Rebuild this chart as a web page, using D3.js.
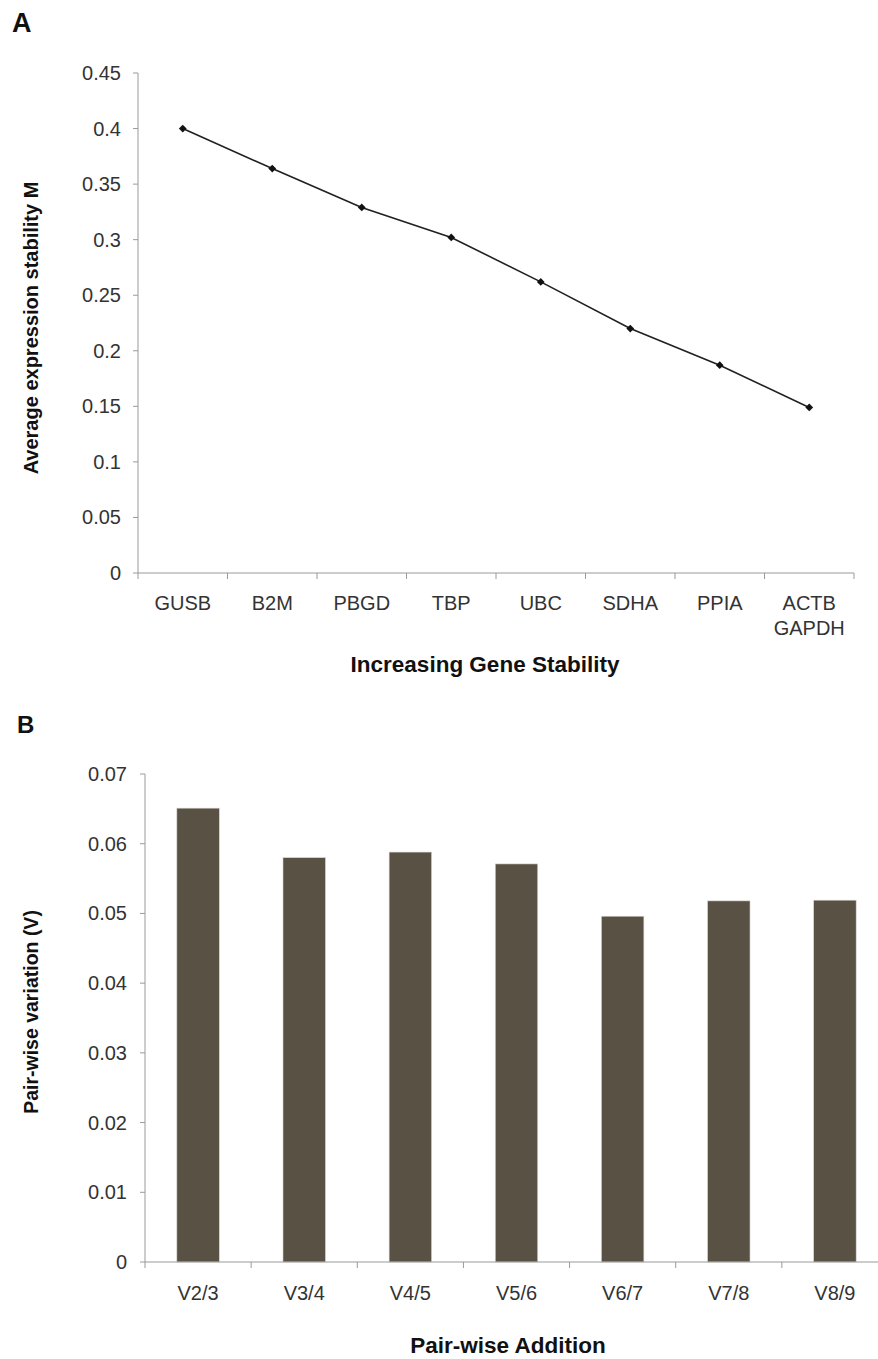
<!DOCTYPE html>
<html lang="en">
<head>
    <meta charset="UTF-8">
    <title>Gene stability and pair-wise variation</title>
    <script src="https://d3js.org/d3.v7.min.js"></script>
    <style>
        body { margin: 0; background: #fff; font-family: "Liberation Sans", Arial, sans-serif; }
        svg { display: block; }
        .tick-label { font-size: 20px; fill: #333; }
        .axis-title { font-weight: bold; fill: #111; }
        .panel-label { font-weight: bold; fill: #111; }
    </style>
</head>
<body>
    <div id="chart"></div>
    <script>
        // Panel A data
        const genes = ["GUSB", "B2M", "PBGD", "TBP", "UBC", "SDHA", "PPIA", "ACTB\nGAPDH"];
        const stabilityM = [0.400, 0.364, 0.329, 0.302, 0.262, 0.220, 0.187, 0.149];
        const ticksA = [0, 0.05, 0.1, 0.15, 0.2, 0.25, 0.3, 0.35, 0.4, 0.45];

        // Panel B data
        const pairs = ["V2/3", "V3/4", "V4/5", "V5/6", "V6/7", "V7/8", "V8/9"];
        const pairVar = [0.0651, 0.0580, 0.0588, 0.0571, 0.0496, 0.0518, 0.0519];
        const ticksB = [0, 0.01, 0.02, 0.03, 0.04, 0.05, 0.06, 0.07];

        const W = 878, H = 1359;
        const axisColor = "#9a9a9a";

        const svg = d3.select("#chart").append("svg")
            .attr("width", W).attr("height", H);

        // ---------- Panel A ----------
        const a = { left: 138, right: 854, top: 73, bottom: 573 };
        const xA = d3.scalePoint().domain(genes).range([a.left, a.right]).padding(0.5);
        const yA = d3.scaleLinear().domain([0, 0.45]).range([a.bottom, a.top]);
        const stepA = xA.step();

        const gA = svg.append("g");

        // y axis
        gA.append("line")
            .attr("x1", a.left).attr("x2", a.left)
            .attr("y1", yA(0.45)).attr("y2", yA(0))
            .attr("stroke", axisColor);
        gA.selectAll(".ytA").data(ticksA).join("line")
            .attr("x1", a.left - 5).attr("x2", a.left)
            .attr("y1", d => yA(d)).attr("y2", d => yA(d))
            .attr("stroke", axisColor);
        gA.selectAll(".ylA").data(ticksA).join("text")
            .attr("class", "tick-label")
            .attr("x", a.left - 17).attr("y", d => yA(d))
            .attr("dy", "0.35em").attr("text-anchor", "end")
            .text(d => d);

        // x axis (ticks between categories)
        gA.append("line")
            .attr("x1", a.left).attr("x2", a.right)
            .attr("y1", a.bottom).attr("y2", a.bottom)
            .attr("stroke", axisColor);
        const boundsA = genes.map(g => xA(g) - stepA / 2).concat([xA(genes[genes.length - 1]) + stepA / 2]);
        gA.selectAll(".xtA").data(boundsA).join("line")
            .attr("x1", d => d).attr("x2", d => d)
            .attr("y1", a.bottom).attr("y2", a.bottom + 6)
            .attr("stroke", axisColor);
        gA.selectAll(".xlA").data(genes).join("text")
            .attr("class", "tick-label")
            .attr("text-anchor", "middle")
            .each(function (g) {
                const lines = g.split("\n");
                d3.select(this).selectAll("tspan").data(lines).join("tspan")
                    .attr("x", xA(g))
                    .attr("y", (l, i) => a.bottom + 37 + i * 25)
                    .text(l => l);
            });

        // line + diamond markers
        const ptsA = genes.map((g, i) => [xA(g), yA(stabilityM[i])]);
        gA.append("path")
            .attr("d", d3.line()(ptsA))
            .attr("fill", "none")
            .attr("stroke", "#231f20")
            .attr("stroke-width", 1.6);
        gA.selectAll(".mk").data(ptsA).join("path")
            .attr("d", d3.symbol(d3.symbolSquare, 30)())
            .attr("transform", d => `translate(${d[0]},${d[1]}) rotate(45)`)
            .attr("fill", "#111");

        // titles
        gA.append("text").attr("class", "axis-title")
            .attr("x", 485).attr("y", 672)
            .attr("text-anchor", "middle")
            .style("font-size", "22.5px")
            .text("Increasing Gene Stability");
        gA.append("text").attr("class", "axis-title")
            .attr("transform", `translate(31,${(a.top + a.bottom) / 2 + 5}) rotate(-90)`)
            .attr("dy", "0.35em").attr("text-anchor", "middle")
            .style("font-size", "20px")
            .text("Average expression stability M");
        gA.append("text").attr("class", "panel-label")
            .attr("x", 12).attr("y", 32)
            .style("font-size", "27px")
            .text("A");

        // ---------- Panel B ----------
        const b = { left: 145, right: 888, top: 774, bottom: 1262 };
        const xB = d3.scaleBand().domain(pairs).range([b.left, b.right])
            .paddingInner(0.6).paddingOuter(0.3);
        const yB = d3.scaleLinear().domain([0, 0.07]).range([b.bottom, b.top]);
        const stepB = xB.step();

        const gB = svg.append("g");

        // bars
        gB.selectAll(".bar").data(pairs).join("rect")
            .attr("x", d => xB(d))
            .attr("width", xB.bandwidth())
            .attr("y", (d, i) => yB(pairVar[i]))
            .attr("height", (d, i) => yB(0) - yB(pairVar[i]))
            .attr("fill", "#595143")
            .attr("stroke", "#d8d6d0")
            .attr("stroke-width", 0.6);

        // y axis
        gB.append("line")
            .attr("x1", b.left).attr("x2", b.left)
            .attr("y1", yB(0.07)).attr("y2", yB(0))
            .attr("stroke", axisColor);
        gB.selectAll(".ytB").data(ticksB).join("line")
            .attr("x1", b.left - 5).attr("x2", b.left)
            .attr("y1", d => yB(d)).attr("y2", d => yB(d))
            .attr("stroke", axisColor);
        gB.selectAll(".ylB").data(ticksB).join("text")
            .attr("class", "tick-label")
            .attr("x", b.left - 18).attr("y", d => yB(d))
            .attr("dy", "0.35em").attr("text-anchor", "end")
            .text(d => d);

        // x axis
        gB.append("line")
            .attr("x1", b.left).attr("x2", b.right)
            .attr("y1", b.bottom).attr("y2", b.bottom)
            .attr("stroke", axisColor);
        const boundsB = pairs.map(p => xB(p) + xB.bandwidth() / 2 - stepB / 2);
        gB.selectAll(".xtB").data(boundsB).join("line")
            .attr("x1", d => d).attr("x2", d => d)
            .attr("y1", b.bottom).attr("y2", b.bottom + 6)
            .attr("stroke", axisColor);
        gB.selectAll(".xlB").data(pairs).join("text")
            .attr("class", "tick-label")
            .attr("x", d => xB(d) + xB.bandwidth() / 2)
            .attr("y", b.bottom + 38)
            .attr("text-anchor", "middle")
            .text(d => d);

        // titles
        gB.append("text").attr("class", "axis-title")
            .attr("x", 508).attr("y", 1353)
            .attr("text-anchor", "middle")
            .style("font-size", "22.5px")
            .text("Pair-wise Addition");
        gB.append("text").attr("class", "axis-title")
            .attr("transform", `translate(31,1012) rotate(-90)`)
            .attr("dy", "0.35em").attr("text-anchor", "middle")
            .style("font-size", "19.5px")
            .text("Pair-wise variation (V)");
        gB.append("text").attr("class", "panel-label")
            .attr("x", 17).attr("y", 733)
            .style("font-size", "24px")
            .text("B");
    </script>
</body>
</html>
